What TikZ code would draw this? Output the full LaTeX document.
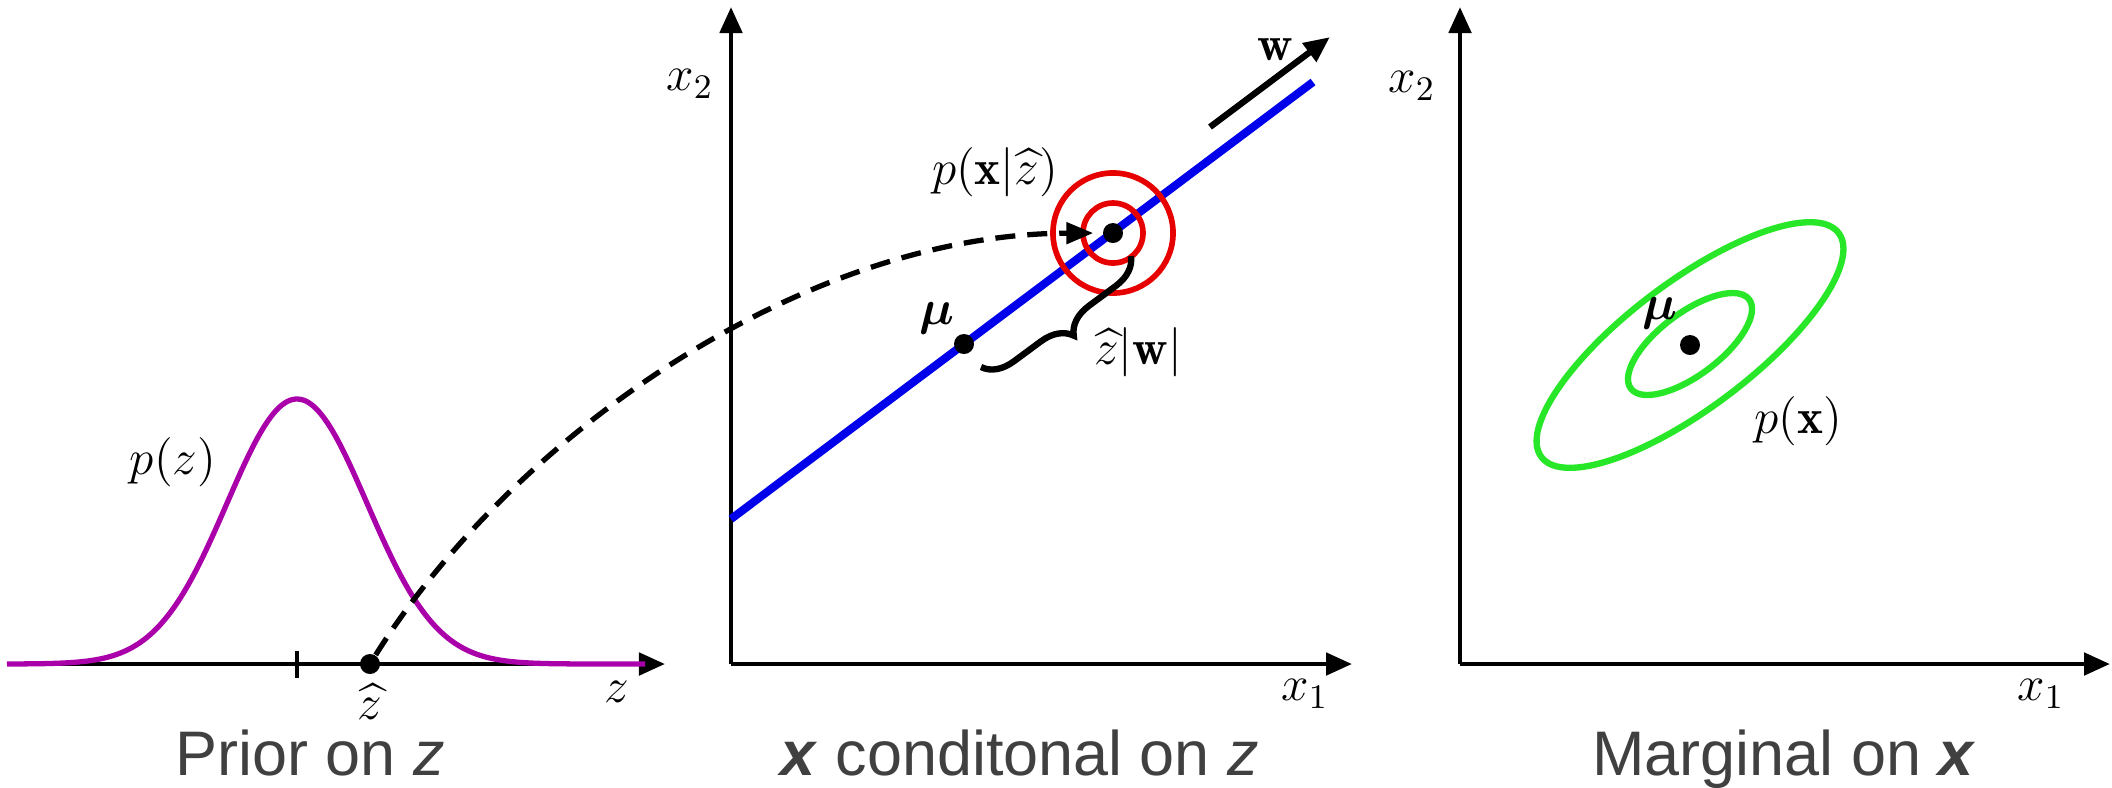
\RequirePackage{fix-cm}
\documentclass[tikz,border=0pt]{standalone}
\usepackage{amsmath,amssymb}
\usepackage{fontspec}
\newfontfamily\capfont{Liberation Sans}
\usetikzlibrary{arrows.meta,decorations.pathreplacing}
\definecolor{magz}{RGB}{170,0,170}
\definecolor{bluel}{RGB}{0,0,235}
\definecolor{redc}{RGB}{230,0,0}
\definecolor{greenc}{RGB}{40,230,40}
\definecolor{captxt}{RGB}{64,64,64}
\begin{document}
\begin{tikzpicture}[x=0.01cm, y=-0.01cm,
  axis/.style={line width=1.4pt, -{Triangle[length=0.26cm,width=0.22cm]}},
  dot/.style={circle, fill=black, inner sep=0pt, minimum size=0.2cm},
  lab/.style={font=\fontsize{14}{16}\selectfont, inner sep=0pt},
  captext/.style={font=\capfont\fontsize{17.9}{20}\selectfont, text=captxt, anchor=base, inner sep=0pt}]
\useasboundingbox (0,0) rectangle (2112,787);

% ---------- left panel ----------
\coordinate (zs) at (7,664);
\coordinate (ze) at (665,664);
\draw[axis] (zs) -- (ze);
\draw[magz, line width=1.5pt] plot[domain=7:645, samples=160, smooth]
  (\x, {664 - 265*exp(-0.5*((\x-297)/70)^2)});
\draw[line width=1.4pt] (297,651) -- (297,678);
\node[dot] (zhat) at (370,664) {};
\node[lab] (pz) at (173,462) {$p(z)$};
\node[lab] (zhatl) at (370,702) {$\widehat{z}$};
\node[lab] (zl) at (617,692) {$z$};
\node[captext] (c1) at (310,775) {Prior on \textit{z}};

% ---------- middle panel ----------
\coordinate (o2) at (731,664);
\coordinate (y2top) at (731,7);
\coordinate (x2end) at (1352,664);
\draw[axis] (o2) -- (y2top);
\draw[axis] (o2) -- (x2end);
\node[lab] (x2b) at (690,84) {$x_2$};
\node[lab] (x1b) at (1305,694) {$x_1$};
\coordinate (bl1) at (731,519);
\coordinate (bl2) at (1313,82);
\draw[bluel, line width=2.3pt] (bl1) -- (bl2);
\draw[redc, line width=1.6pt] (1113,233) circle [radius=0.6cm];
\draw[redc, line width=1.6pt] (1113,233) circle [radius=0.3cm];
\node[dot] (mu) at (964,344) {};
\node[dot] (xz) at (1113,233) {};
\draw[line width=1.5pt, dash pattern=on 0.2cm off 0.12cm,
  -{Triangle[length=0.27cm,width=0.21cm]}, shorten >=0.09cm]
  (zhat) .. controls (510,440) and (800,234) .. (xz);
\coordinate (b1) at (981,367);
\coordinate (b2) at (1131,256);
\draw[line width=1.8pt, decorate, decoration={brace, amplitude=0.3cm, mirror}] (b1) -- (b2);
\node[lab] (zw) at (1138,352) {$\widehat{z}|\mathbf{w}|$};
\node[lab] (pxz) at (995,172) {$p(\mathbf{x}|\widehat{z})$};
\node[lab] (mul) at (937,318) {$\boldsymbol{\mu}$};
\coordinate (w1) at (1210,127);
\coordinate (w2) at (1330,37);
\draw[line width=1.8pt, -{Triangle[length=0.26cm,width=0.22cm]}] (w1) -- (w2);
\node[lab] (wl) at (1275,50) {$\mathbf{w}$};
\node[captext] (c2) at (1020,775) {\textbf{\textit{x}} conditonal on \textit{z}};

% ---------- right panel ----------
\coordinate (o3) at (1460,664);
\coordinate (y3top) at (1460,7);
\coordinate (x3end) at (2110,664);
\draw[axis] (o3) -- (y3top);
\draw[axis] (o3) -- (x3end);
\node[lab] (x2c) at (1412,86) {$x_2$};
\node[lab] (x1c) at (2041,694) {$x_1$};
\draw[greenc, line width=1.8pt, rotate around={37:(1690,345)}]
  (1690,345) ellipse [x radius=1.86cm, y radius=0.63cm];
\draw[greenc, line width=1.8pt, rotate around={37:(1690,344)}]
  (1690,344) ellipse [x radius=0.74cm, y radius=0.31cm];
\node[dot] (mu3) at (1690,345) {};
\node[lab] (mul3) at (1660,313) {$\boldsymbol{\mu}$};
\node[lab] (px) at (1798,421) {$p(\mathbf{x})$};
\node[captext] (c3) at (1784,775) {Marginal on \textbf{\textit{x}}};
\end{tikzpicture}
\end{document}
